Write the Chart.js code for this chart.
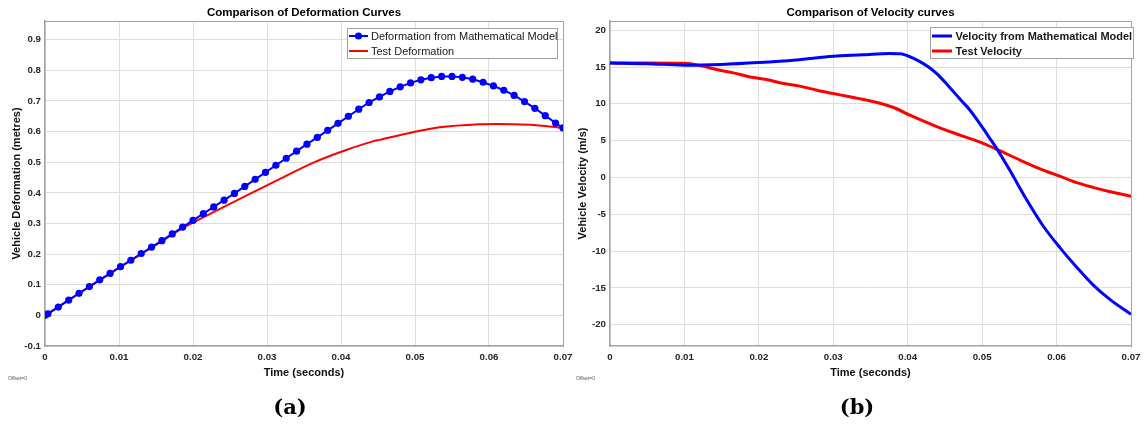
<!DOCTYPE html>
<html><head><meta charset="utf-8">
<script src="https://cdn.jsdelivr.net/npm/chart.js@4.4.0/dist/chart.umd.min.js"></script>
<style>
html,body{margin:0;padding:0;background:#fff;width:1146px;height:426px;overflow:hidden;position:relative;font-family:"Liberation Sans",Arial,sans-serif}
.wrap{position:absolute;top:0;width:573px;height:426px}
.cap{position:absolute;top:395px;width:100px;text-align:center;font-family:"DejaVu Serif",serif;font-weight:bold;font-size:21px;line-height:24px;color:#000}
.off{position:absolute;top:375px;font-size:5px;color:#555;font-family:"Liberation Sans",Arial,sans-serif}
</style></head><body>
<div class="wrap" style="left:0"><canvas id="c1" width="573" height="426"></canvas></div>
<div class="wrap" style="left:573px"><canvas id="c2" width="573" height="426"></canvas></div>
<div class="off" style="left:8px">Offset=0</div>
<div class="off" style="left:576px">Offset=0</div>
<div class="cap" style="left:240px">(a)</div>
<div class="cap" style="left:807px">(b)</div>
<script>
// ---- data ----
const defModelT = [0,0.0004,0.0018,0.0032,0.0046,0.0060,0.0074,0.0088,0.0102,0.0116,0.0130,0.0144,0.0158,0.0172,0.0186,0.0200,0.0214,0.0228,0.0242,0.0256,0.0270,0.0284,0.0298,0.0312,0.0326,0.0340,0.0354,0.0368,0.0382,0.0396,0.0410,0.0424,0.0438,0.0452,0.0466,0.0480,0.0494,0.0508,0.0522,0.0536,0.0550,0.0564,0.0578,0.0592,0.0606,0.0620,0.0634,0.0648,0.0662,0.0676,0.0690,0.0700];
const defModelV = [0,0.005,0.027,0.050,0.072,0.094,0.116,0.137,0.159,0.180,0.202,0.223,0.244,0.266,0.288,0.310,0.332,0.354,0.376,0.398,0.421,0.444,0.467,0.490,0.513,0.536,0.559,0.581,0.604,0.627,0.650,0.673,0.695,0.713,0.731,0.746,0.759,0.769,0.776,0.780,0.780,0.777,0.771,0.761,0.749,0.735,0.718,0.698,0.676,0.652,0.628,0.612];
const defTestT = [0,0.005,0.010,0.015,0.0182,0.0227,0.0272,0.0317,0.0362,0.0407,0.0443,0.0452,0.0497,0.0533,0.0587,0.0610,0.0655,0.0700];
const defTestV = [0,0.078,0.155,0.230,0.279,0.336,0.391,0.445,0.498,0.540,0.568,0.573,0.598,0.614,0.624,0.625,0.622,0.612];
const velModelT = [0,0.005,0.010,0.015,0.020,0.025,0.030,0.034,0.0375,0.0390,0.0405,0.0417,0.0428,0.0439,0.0450,0.0461,0.0472,0.0484,0.0493,0.0502,0.0511,0.0520,0.0537,0.0559,0.0582,0.0605,0.0627,0.0649,0.0672,0.0700];
const velModelV = [15.55,15.45,15.25,15.35,15.6,15.95,16.45,16.65,16.85,16.8,16.3,15.7,15.0,14.1,12.95,11.7,10.45,9.1,7.85,6.55,5.2,3.85,1.0,-2.9,-6.6,-9.6,-12.2,-14.6,-16.6,-18.6];
const velTestT = [0,0.005,0.010,0.0121,0.0143,0.0166,0.0188,0.0210,0.0233,0.0255,0.0278,0.0300,0.0322,0.0345,0.0381,0.0403,0.0439,0.0470,0.0502,0.0520,0.0551,0.0582,0.0605,0.0627,0.0649,0.0672,0.0700];
const velTestV = [15.55,15.55,15.5,15.2,14.65,14.2,13.65,13.3,12.75,12.4,11.85,11.4,10.95,10.5,9.5,8.45,6.9,5.75,4.6,3.8,2.35,1.0,0.15,-0.7,-1.35,-1.95,-2.55];
const xTicks = [0,0.01,0.02,0.03,0.04,0.05,0.06,0.07];
const defYTicks = [-0.1,0,0.1,0.2,0.3,0.4,0.5,0.6,0.7,0.8,0.9];
const velYTicks = [-20,-15,-10,-5,0,5,10,15,20];

const FAM = '"Liberation Sans", Arial, sans-serif';
const TICKC = '#262626', GRIDC = '#dedede', BORDC = '#a2a2a2';
const pts = (t, v) => t.map((x, i) => ({x, y: v[i]}));

const boxLegend = {
  id: 'boxLegend',
  afterDraw(chart, args, o) {
    const ctx = chart.ctx;
    ctx.save();
    ctx.fillStyle = '#fff';
    ctx.fillRect(o.x, o.y, o.w, o.h);
    ctx.strokeStyle = '#a0a0a0'; ctx.lineWidth = 1;
    ctx.strokeRect(o.x + 0.5, o.y + 0.5, o.w, o.h);
    chart.data.datasets.forEach((ds, i) => {
      const cy = o.y + o.row0 + i * o.rowGap;
      ctx.strokeStyle = ds.borderColor; ctx.lineWidth = ds.borderWidth;
      ctx.beginPath(); ctx.moveTo(o.x + o.l0, cy); ctx.lineTo(o.x + o.l1, cy); ctx.stroke();
      if (ds.pointRadius > 0) {
        ctx.fillStyle = ds.pointBackgroundColor;
        ctx.beginPath(); ctx.arc(o.x + (o.l0 + o.l1) / 2, cy, ds.pointRadius, 0, Math.PI * 2); ctx.fill();
      }
      ctx.fillStyle = '#1a1a1a';
      ctx.font = o.font;
      ctx.textBaseline = 'middle'; ctx.textAlign = 'left';
      ctx.fillText(ds.label, o.x + o.tx, cy + 0.5);
    });
    ctx.restore();
  }
};

function scales(opt) {
  return {
    x: {
      type: 'linear', axis: 'x', position: 'bottom', min: 0, max: 0.07,
      afterBuildTicks: s => { s.ticks = xTicks.map(v => ({value: v})); },
      afterFit: s => { s.height = 80; s.paddingLeft = 0; s.paddingRight = 0; },
      grid: {color: GRIDC, drawTicks: false, lineWidth: 1},
      border: {color: BORDC, width: 1.5},
      ticks: {padding: 6, color: TICKC, font: {family: FAM, size: 9.7, weight: 'bold'}, maxRotation: 0, autoSkip: false, callback: v => String(v)},
      title: {display: true, text: 'Time (seconds)', color: '#111', font: {family: FAM, size: 11, weight: 'bold'}, padding: {top: 0, bottom: 46.4}}
    },
    y: {
      type: 'linear', axis: 'y', position: 'left', min: opt.ymin, max: opt.ymax,
      afterBuildTicks: s => { s.ticks = opt.yTicks.map(v => ({value: v})); },
      afterFit: s => { s.width = opt.yw; s.paddingTop = 0; s.paddingBottom = 0; },
      grid: {color: GRIDC, drawTicks: false, lineWidth: 1},
      border: {color: BORDC, width: 1.5},
      ticks: {padding: 4, color: TICKC, font: {family: FAM, size: 9.7, weight: 'bold'}, autoSkip: false, callback: v => String(v)},
      title: {display: true, text: opt.ytitle, color: '#111', font: {family: FAM, size: 11, weight: 'bold'}, padding: {top: opt.ytp, bottom: 0}}
    },
    xTop: {
      type: 'linear', axis: 'x', position: 'top', min: 0, max: 0.07,
      afterFit: s => { s.height = 21; s.paddingLeft = 0; s.paddingRight = 0; },
      grid: {display: false, drawTicks: false},
      border: {display: true, color: BORDC, width: 1},
      ticks: {display: false},
      title: {display: true, text: opt.title, color: '#000', font: {family: FAM, size: 11.5, weight: 'bold'}, padding: {top: 6.1, bottom: 0}}
    },
    yRight: {
      type: 'linear', axis: 'y', position: 'right', min: opt.ymin, max: opt.ymax,
      afterFit: s => { s.width = opt.rw; s.paddingTop = 0; s.paddingBottom = 0; },
      grid: {display: false, drawTicks: false},
      border: {display: true, color: BORDC, width: 1},
      ticks: {display: false}
    }
  };
}

const common = {
  responsive: false, animation: false, devicePixelRatio: 1,
  layout: {padding: 0},
  plugins: {legend: {display: false}, tooltip: {enabled: false}, title: {display: false}}
};

new Chart(document.getElementById('c1'), {
  type: 'line',
  data: {datasets: [
    {label: 'Deformation from Mathematical Model', data: pts(defModelT, defModelV), borderColor: '#0000ff', backgroundColor: '#0000ff', pointBackgroundColor: '#0000ff', pointBorderColor: '#0000ff', borderWidth: 2, pointRadius: 3.6, pointBorderWidth: 0, tension: 0},
    {label: 'Test Deformation', data: pts(defTestT, defTestV), borderColor: '#ff0000', backgroundColor: '#ff0000', borderWidth: 2, pointRadius: 0, cubicInterpolationMode: 'monotone'}
  ]},
  options: Object.assign({}, common, {
    scales: scales({ymin: -0.1, ymax: 0.961, yTicks: defYTicks, yw: 45, rw: 10, ytp: 10.4, ytitle: 'Vehicle Deformation (metres)', title: 'Comparison of Deformation Curves'}),
    plugins: Object.assign({}, common.plugins, {boxLegend: {x: 347, y: 28, w: 210, h: 30, row0: 8, rowGap: 15, l0: 2, l1: 21, tx: 24, font: '11px ' + FAM}})
  }),
  plugins: [boxLegend]
});

new Chart(document.getElementById('c2'), {
  type: 'line',
  data: {datasets: [
    {label: 'Velocity from Mathematical Model', data: pts(velModelT, velModelV), borderColor: '#0000ff', backgroundColor: '#0000ff', borderWidth: 3, pointRadius: 0, cubicInterpolationMode: 'monotone'},
    {label: 'Test Velocity', data: pts(velTestT, velTestV), borderColor: '#ff0000', backgroundColor: '#ff0000', borderWidth: 3, pointRadius: 0, cubicInterpolationMode: 'monotone'}
  ]},
  options: Object.assign({}, common, {
    scales: scales({ymin: -22.9, ymax: 21.25, yTicks: velYTicks, yw: 37, rw: 15, ytp: 2.9, ytitle: 'Vehicle Velocity (m/s)', title: 'Comparison of Velocity curves'}),
    plugins: Object.assign({}, common.plugins, {boxLegend: {x: 357, y: 27, w: 203, h: 31, row0: 9, rowGap: 15, l0: 2, l1: 22, tx: 25.5, font: 'bold 11px ' + FAM}})
  }),
  plugins: [boxLegend]
});
</script>
</body></html>
